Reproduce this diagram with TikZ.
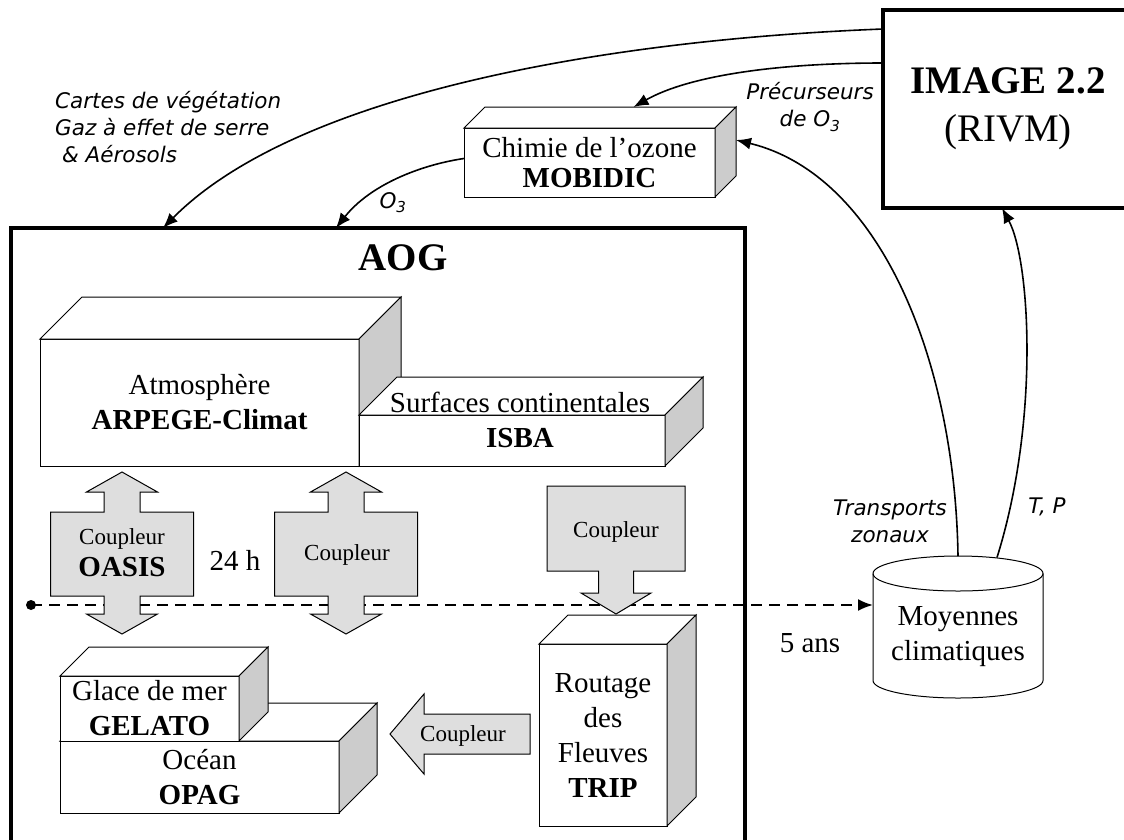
\documentclass[tikz,border=0pt]{standalone}
\usepackage{fontspec}
\setmainfont{Liberation Serif}
\newfontfamily\manuscrit{DejaVu Sans}
\usetikzlibrary{calc,arrows.meta,positioning}

\definecolor{cote}{gray}{0.8}
\definecolor{fondcoupleur}{gray}{0.87}

\newcommand{\grand}{\fontsize{29}{35}\selectfont}
\newcommand{\petit}{\fontsize{23}{30}\selectfont}
\newcommand{\titre}{\fontsize{39}{48}\selectfont}
\newcommand{\manus}{\manuscrit\itshape\fontsize{21.5}{27}\selectfont}

% faces du dessus et de droite d'un bloc
\newcommand{\relief}[2]{%
  \draw[fill=white,line width=1pt] (#1.north west) -- ++(#2,#2) -- ($(#1.north east)+(#2,#2)$) -- (#1.north east) -- cycle;
  \draw[fill=cote,line width=1pt] (#1.north east) -- ++(#2,#2) -- ($(#1.south east)+(#2,#2)$) -- (#1.south east) -- cycle;}

\newcommand{\flechedouble}[1]{%
  \draw[coupleur] (#1,-472) -- ++(35.5,-20) -- ++(-17.5,0) -- ++(0,-20) -- ++(53.5,0) -- ++(0,-84) -- ++(-53.5,0) -- ++(0,-18) -- ++(17.5,0) -- ++(-35.5,-20) -- ++(-35.5,20) -- ++(17.5,0) -- ++(0,18) -- ++(-53.5,0) -- ++(0,84) -- ++(53.5,0) -- ++(0,20) -- ++(-17.5,0) -- cycle;}

\begin{document}
\begin{tikzpicture}[x=1pt,y=1pt,>={Latex[length=15pt,width=12pt]},
  bloc/.style={draw,fill=white,line width=1pt,inner sep=0pt,outer sep=0pt,align=center,font=\grand},
  cadre/.style={draw,line width=3.5pt,inner sep=0pt,outer sep=0pt},
  coupleur/.style={draw,fill=fondcoupleur,line width=1pt},
  fleche/.style={->,line width=1.6pt},
  pointilles/.style={line width=2pt,dash pattern=on 11pt off 7pt},
  etiquette/.style={font=\manus,align=center,inner sep=0pt}]
  \useasboundingbox (0,0) rectangle (1124,-839);
  \clip (0,0) rectangle (1124,-839);

  \node[cadre,minimum width=734,minimum height=672] (aog) at (378,-564) {};
  \node[font=\titre\bfseries] (titreaog) at (403,-258) {AOG};
  \node[cadre,minimum width=250,minimum height=198,font=\titre,align=center] (image) at (1008,-109) {\textbf{IMAGE 2.2}\\(RIVM)};

  \node[bloc,minimum width=251,minimum height=69,font=\fontsize{29}{30}\selectfont] (mobidic) at (589.5,-162.5) {Chimie de l’ozone\\\textbf{MOBIDIC}};
  \relief{mobidic}{21}

  \node[bloc,minimum width=319,minimum height=127] (atm) at (199.5,-402.5) {Atmosphère\\\textbf{ARPEGE-Climat}};
  \relief{atm}{42}
  \node[bloc,minimum width=306,minimum height=51,anchor=south west] (isba) at (atm.south east) {};
  \relief{isba}{38}
  \node[font=\grand,align=center] (isbatexte) at (520,-420) {Surfaces continentales\\\textbf{ISBA}};

  \node[bloc,minimum width=279,minimum height=72,anchor=north west] (ocean) at (60,-741) {Océan\\\textbf{OPAG}};
  \relief{ocean}{38}
  \node[bloc,minimum width=179,minimum height=65,anchor=south west] (glace) at (ocean.north west) {Glace de mer\\\textbf{GELATO}};
  \relief{glace}{29}

  \node[bloc,minimum width=128,minimum height=182] (trip) at (603,-735) {Routage\\des\\Fleuves\\\textbf{TRIP}};
  \relief{trip}{29}

  \node[minimum width=170,minimum height=142,inner sep=0pt,outer sep=0pt] (moy) at (958,-627) {};
  \draw[fill=white,line width=1pt] ([yshift=-17.5]moy.north west) -- ([yshift=17.5]moy.south west) arc[start angle=180,end angle=360,x radius=85,y radius=17.5] -- ([yshift=-17.5]moy.north east) arc[start angle=0,end angle=180,x radius=85,y radius=17.5] -- cycle;
  \draw[line width=1pt] ([yshift=-17.5]moy.north west) arc[start angle=180,end angle=360,x radius=85,y radius=17.5];
  \node[font=\grand,align=center] (moytexte) at (958,-637) {Moyennes\\climatiques};

  \coordinate (depart) at (31,-605);
  \draw[pointilles,->] (depart) -- (moy.west |- depart);
  \fill (depart) circle(5);

  \flechedouble{122}
  \flechedouble{346}
  \draw[coupleur] (547,-486) -- (685,-486) -- (685,-571) -- (633.5,-571) -- (633.5,-593) -- (651,-593) -- (616,-614) -- (581,-593) -- (598.5,-593) -- (598.5,-571) -- (547,-571) -- cycle;
  \draw[coupleur] (390,-734) -- (424,-694) -- (424,-714) -- (530,-714) -- (530,-754) -- (424,-754) -- (424,-774) -- cycle;
  \node[align=center,font=\grand] (oasis) at (122,-553) {{\petit Coupleur}\\[-3pt]\textbf{OASIS}};
  \node[font=\petit] (coupleurb) at (347,-555) {Coupleur};
  \node[font=\petit] (coupleurc) at (616,-532) {Coupleur};
  \node[font=\petit] (coupleurd) at (463,-736) {Coupleur};
  \node[font=\grand] (vingtquatre) at (235,-560) {24 h};
  \node[font=\grand] (cinqans) at (810,-643) {5 ans};

  \draw[fleche] ($(image.north west)+(0,-19)$) .. controls (600,-40) and (295,-95) .. ([xshift=152]aog.north west);
  \draw[fleche] ($(image.north west)+(0,-53)$) .. controls (780,-63) and (690,-75) .. ($(mobidic.north)+(44,21)$);
  \draw[fleche] ([yshift=4]mobidic.west) .. controls (420,-165) and (370,-185) .. ([xshift=325]aog.north west);
  \draw[fleche] (moy.north) .. controls (955,-360) and (880,-175) .. ($(mobidic.east)+(21,22.5)$);
  \draw[fleche] ($(moy.north)+(39,-1.5)$) .. controls (1040,-420) and (1030,-260) .. ([xshift=-6]image.south);

  \node[etiquette,align=left,anchor=west] (cartes) at (55,-127) {Cartes de végétation\\Gaz à effet de serre\\\ \& Aérosols};
  \node[etiquette] (precurseurs) at (810,-107) {Précurseurs\\de O\textsubscript{3}};
  \node[etiquette] (ozone) at (393,-203) {O\textsubscript{3}};
  \node[etiquette] (transports) at (890,-521) {Transports\\zonaux};
  \node[etiquette] (tp) at (1047,-507) {T, P};
\end{tikzpicture}
\end{document}
